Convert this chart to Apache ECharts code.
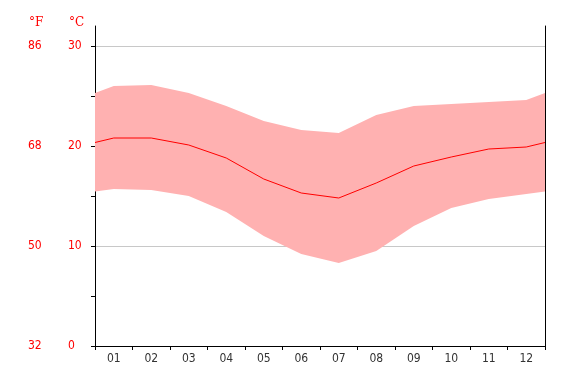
<!DOCTYPE html>
<html>
<head>
<meta charset="utf-8">
<script src="https://cdn.jsdelivr.net/npm/echarts@6/dist/echarts.min.js"></script>
<style>html,body{margin:0;padding:0;background:#fff}#c{width:577px;height:383px}</style>
</head>
<body>
<div id="c"></div>
<script>
var months = ['01','02','03','04','05','06','07','08','09','10','11','12'];
var tMean = [20.8, 20.8, 20.1, 18.8, 16.7, 15.3, 14.8, 16.3, 18.0, 18.9, 19.7, 19.9];
var tMax  = [26.0, 26.1, 25.3, 24.0, 22.5, 21.6, 21.3, 23.1, 24.0, 24.2, 24.4, 24.6];
var tMin  = [15.7, 15.6, 15.0, 13.4, 11.0, 9.2, 8.3, 9.5, 12.0, 13.8, 14.7, 15.2];
var cTicks = [0, 10, 20, 30];
var minorTicks = [0, 5, 10, 15, 20, 25, 30];

// wrap around: values at the year's edges are the mean of Dec and Jan
function withEdges(arr) {
  var edge = (arr[0] + arr[arr.length - 1]) / 2;
  var out = [[0, edge]];
  arr.forEach(function (v, i) { out.push([i + 0.5, v]); });
  out.push([arr.length, edge]);
  return out;
}
var lowPts = withEdges(tMin);
var highPts = withEdges(tMax);
var meanPts = withEdges(tMean);

var FONT = '"DejaVu Sans Condensed", "DejaVu Sans", sans-serif';
var chart = echarts.init(document.getElementById('c'), null, {renderer: 'canvas'});
chart.setOption({
  animation: false,
  backgroundColor: '#fff',
  grid: {left: 95, right: 32, top: 26, bottom: 37},
  graphic: [
    {type: 'text', left: 29, top: 17, style: {text: '°F', fill: '#ff0000', font: '12px "DejaVu Serif", serif'}},
    {type: 'text', left: 69, top: 17, style: {text: '°C', fill: '#ff0000', font: '12px "DejaVu Serif", serif'}}
  ],
  xAxis: [
    {
      type: 'category', data: months, boundaryGap: true, position: 'bottom',
      axisLine: {show: true, lineStyle: {color: '#000', width: 1}},
      axisTick: {show: true, length: 4, lineStyle: {color: '#000'}},
      axisLabel: {color: '#333', fontSize: 12, fontFamily: FONT, margin: 7},
      splitLine: {show: false}
    },
    {type: 'value', min: 0, max: 12, show: false}
  ],
  yAxis: [
    {
      type: 'value', min: 0, max: 32, interval: 10, position: 'left',
      axisLine: {show: true, lineStyle: {color: '#000', width: 1}},
      axisTick: {show: true, length: 4, customValues: minorTicks, lineStyle: {color: '#000'}},
      axisLabel: {customValues: cTicks, color: '#ff0000', fontSize: 12, fontFamily: FONT, align: 'left', margin: 27, padding: [3, 0, 0, 0]},
      splitLine: {show: false}
    },
    {
      type: 'value', min: 0, max: 32, interval: 10, position: 'left',
      axisLine: {show: false}, axisTick: {show: false}, splitLine: {show: false},
      axisLabel: {
        customValues: cTicks, color: '#ff0000', fontSize: 12, fontFamily: FONT, align: 'left', margin: 67, padding: [3, 0, 0, 0],
        formatter: function (v) { return String(Math.round(v * 9 / 5 + 32)); }
      }
    },
    {
      type: 'value', min: 0, max: 32, position: 'right',
      axisLine: {show: true, onZero: false, lineStyle: {color: '#000', width: 1}},
      axisTick: {show: false}, axisLabel: {show: false}, splitLine: {show: false}
    },
    {
      type: 'value', min: 0, max: 32, interval: 10, position: 'left',
      axisLine: {show: false}, axisTick: {show: false}, axisLabel: {show: false},
      splitLine: {show: true, showMinLine: false, showMaxLine: false, lineStyle: {color: '#c8c8c8', width: 1}}
    }
  ],
  series: [
    {
      name: 'range', type: 'custom', xAxisIndex: 1, yAxisIndex: 0,
      data: lowPts, silent: true,
      renderItem: function (params, api) {
        if (params.dataIndex !== 0) return null;
        var pts = [];
        highPts.forEach(function (p) { pts.push(api.coord(p)); });
        for (var i = lowPts.length - 1; i >= 0; i--) pts.push(api.coord(lowPts[i]));
        return {type: 'polygon', shape: {points: pts}, style: {fill: '#ffb1b1', stroke: null}};
      }
    },
    {
      name: 'mean', type: 'line', xAxisIndex: 1, yAxisIndex: 0,
      data: meanPts, symbol: 'none', silent: true, z: 3,
      lineStyle: {color: '#ff0000', width: 1}
    }
  ]
});
</script>
</body>
</html>
